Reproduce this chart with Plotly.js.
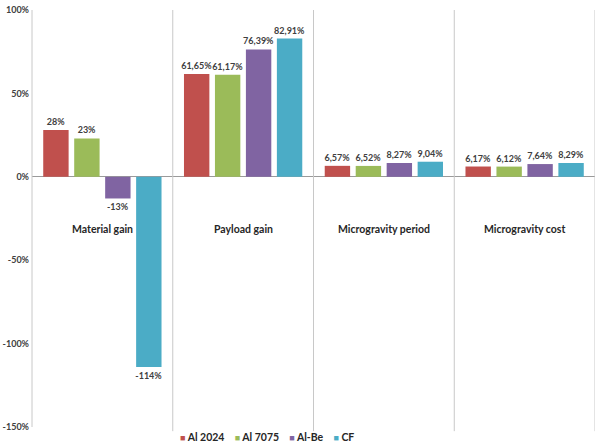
<!DOCTYPE html>
<html>
<head>
<meta charset="utf-8">
<script src="https://cdn.plot.ly/plotly-3.0.1.min.js"></script>
<style>html,body{margin:0;padding:0;background:#fff}#chart{width:595px;height:446px}</style>
</head>
<body>
<div id="chart"></div>
<script>
const categories = ["Material gain", "Payload gain", "Microgravity period", "Microgravity cost"];
const seriesNames = ["Al 2024", "Al 7075", "Al-Be", "CF"];
const al2024 = [28, 61.65, 6.57, 6.17];
const al7075 = [23, 61.17, 6.52, 6.12];
const alBe = [-13, 76.39, 8.27, 7.64];
const cf = [-114, 82.91, 9.04, 8.29];
const labels2024 = ["28%", "61,65%", "6,57%", "6,17%"];
const labels7075 = ["23%", "61,17%", "6,52%", "6,12%"];
const labelsBe = ["-13%", "76,39%", "8,27%", "7,64%"];
const labelsCf = ["-114%", "82,91%", "9,04%", "8,29%"];
const yTickVals = [-150, -100, -50, 0, 50, 100];
const yTickText = ["-150%", "-100%", "-50%", "0%", "50%", "100%"];

const colors = ["#C0504D", "#9BBB59", "#8064A2", "#4BACC6"];
const FONT = "Lato, 'Liberation Sans', Arial, sans-serif";
const values = [al2024, al7075, alBe, cf];
const texts = [labels2024, labels7075, labelsBe, labelsCf];

const data = values.map((v, i) => ({
  type: "bar",
  name: seriesNames[i],
  x: categories,
  y: v,
  text: texts[i],
  textposition: "outside",
  constraintext: "none",
  cliponaxis: false,
  textfont: {family: FONT, size: 9, color: "#404040", weight: "bold"},
  marker: {color: colors[i]},
  hoverinfo: "none",
  showlegend: false
}));

const shapes = [0.5, 1.5, 2.5, 3.5].map(xv => ({
  type: "line", xref: "x", yref: "paper", x0: xv, x1: xv, y0: -0.01, y1: 1.0,
  line: {color: "#C8C8C8", width: 1}
}));
shapes.push({type: "line", xref: "paper", yref: "paper", x0: 0, x1: 0, y0: 0, y1: 1.0, line: {color: "#C8C8C8", width: 1}});

const annotations = categories.map(c => ({
  x: c, y: -31, xref: "x", yref: "y", text: c, showarrow: false,
  font: {family: FONT, size: 10.5, color: "#262626", weight: "bold"}
}));

// legend drawn as one annotation built from the series names and colours
const legendText = seriesNames.map((n, i) =>
  `<span style="color:${colors[i]};font-size:9px">■</span> ${n}`).join("&nbsp;&nbsp;&nbsp;&nbsp;");
annotations.push({
  xref: "paper", yref: "paper", x: 0.26, xanchor: "left", y: -0.025, yanchor: "middle",
  text: legendText, showarrow: false,
  font: {family: FONT, size: 10.5, color: "#262626", weight: "bold"}
});

const layout = {
  width: 595, height: 446,
  margin: {l: 32, r: 0, t: 10, b: 19},
  paper_bgcolor: "#fff", plot_bgcolor: "#fff",
  barmode: "group", bargap: 0.12, bargroupgap: 0.18,
  showlegend: false,
  xaxis: {type: "category", range: [-0.5, 3.5], showticklabels: false, showgrid: false,
    zeroline: false, showline: false, ticks: ""},
  yaxis: {range: [-150, 100], tickvals: yTickVals, ticktext: yTickText, showgrid: false,
    zeroline: true, zerolinecolor: "#9A9A9A", zerolinewidth: 1, showline: false,
    ticks: "", ticklen: 0, ticklabelstandoff: 2,
    tickfont: {family: FONT, size: 9, color: "#404040", weight: "bold"}},
  shapes: shapes,
  annotations: annotations,
  font: {family: FONT}
};

Plotly.newPlot("chart", data, layout, {displayModeBar: false, staticPlot: true});
</script>
</body>
</html>
